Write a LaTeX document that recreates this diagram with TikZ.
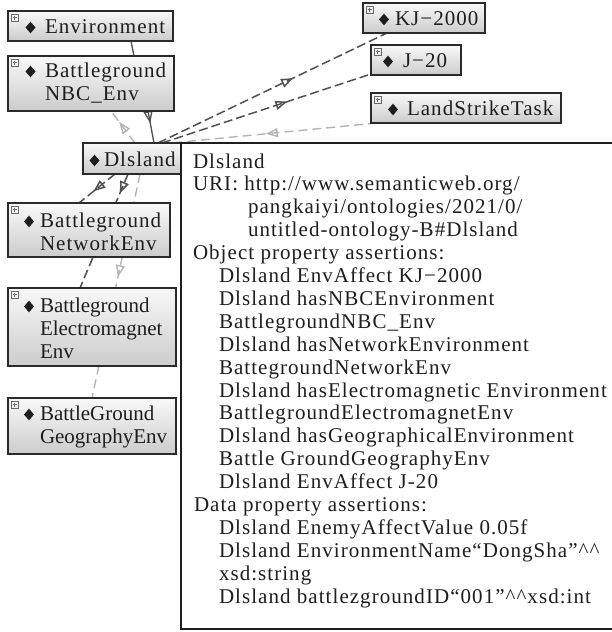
\documentclass[tikz,border=0pt]{standalone}
\usepackage{fontspec}
\setmainfont{Liberation Serif}
\newfontfamily\spacedserif[LetterSpace=5]{Liberation Serif}
\usetikzlibrary{arrows.meta,decorations.markings,calc}
\pgfdeclarelayer{edges}
\pgfsetlayers{edges,main}

\definecolor{ink}{HTML}{1E1E1E}
\definecolor{boxline}{HTML}{2A2A2A}
\definecolor{darkedge}{HTML}{505050}
\definecolor{lightedge}{HTML}{B4B4B4}
\definecolor{iconcol}{HTML}{6A6A6A}

% expand icon in the top-left corner of a class box
\newcommand\ogicon[1]{%
  \draw[iconcol, line width=0.6pt] ($(#1.north west)+(3,3)$) rectangle ($(#1.north west)+(10,10)$);
  \draw[iconcol, line width=0.6pt] ($(#1.north west)+(4.5,6.5)$) -- ($(#1.north west)+(8.5,6.5)$)
                                   ($(#1.north west)+(6.5,4.5)$) -- ($(#1.north west)+(6.5,8.5)$);}
% filled diamond marker placed at a given centre
\newcommand\ogdiamond[2]{%
  \fill[ink] (#1,#2) ++(-5,0) -- ++(5,-5.8) -- ++(5,5.8) -- ++(-5,5.8) -- cycle;}

\begin{document}
\begin{tikzpicture}[x=1pt,y=-1pt,
  ogbox/.style={draw=boxline, line width=1.4pt, top color=gray!5, bottom color=gray!40,
                anchor=north west, inner sep=0pt, outer sep=0pt},
  infobox/.style={draw=ink, line width=1.3pt, fill=white, anchor=north west,
                  inner sep=0pt, outer sep=0pt},
  lbl/.style={anchor=base west, inner sep=0pt, outer sep=0pt, text=ink,
              font=\spacedserif\fontsize{21}{23}\selectfont},
  lblnarrow/.style={anchor=base west, inner sep=0pt, outer sep=0pt, text=ink,
              font=\fontsize{21}{23}\selectfont},
  info/.style={anchor=base west, inner sep=0pt, outer sep=0pt, text=ink,
               font=\spacedserif\fontsize{21}{23}\selectfont},
  solidedge/.style={draw=darkedge, line width=1.3pt},
  darkdash/.style={draw=darkedge, line width=1.5pt, dash pattern=on 9pt off 4pt},
  lightdash/.style={draw=lightedge, line width=1.4pt, dash pattern=on 9pt off 5pt},
  tri/.style={postaction={decorate,decoration={markings,
      mark=at position #1 with {\arrow{Triangle[open,length=12pt,width=9pt]}}}}},
]
\useasboundingbox (0,0) rectangle (611,632);

% ---- class boxes ----
\node[ogbox, minimum width=165pt, minimum height=30pt] (env) at (8,11) {};
\node[ogbox, minimum width=166pt, minimum height=55pt] (nbc) at (8,56) {};
\node[ogbox, minimum width=98pt,  minimum height=31pt] (dls) at (83,143) {};
\node[ogbox, minimum width=122pt, minimum height=30pt] (kj)  at (363,3) {};
\node[ogbox, minimum width=90pt,  minimum height=30pt] (jt)  at (371,45) {};
\node[ogbox, minimum width=190pt, minimum height=30pt] (lst) at (371,93) {};
\node[ogbox, minimum width=162pt, minimum height=54pt] (net) at (8,203) {};
\node[ogbox, minimum width=168pt, minimum height=78pt] (em)  at (8,288) {};
\node[ogbox, minimum width=168pt, minimum height=56pt] (geo) at (8,398) {};

\foreach \b in {env,nbc,kj,jt,lst,net,em,geo} {\ogicon{\b}}

\ogdiamond{30.5}{27.5}
\node[lbl] (env-a) at (45,33) {Environment};
\ogdiamond{30.5}{71.5}
\node[lbl] (nbc-a) at (45,77) {Battleground};
\node[lbl] (nbc-b) at (45,100) {NBC\_Env};
\ogdiamond{94.5}{160.5}
\node[lbl] (dls-a) at (104,166) {Dlsland};
\ogdiamond{384}{19.5}
\node[lbl] (kj-a) at (395,25) {KJ−2000};
\ogdiamond{388}{61.5}
\node[lbl] (jt-a) at (403,67) {J−20};
\ogdiamond{393}{109.5}
\node[lbl] (lst-a) at (407,115) {LandStrikeTask};
\ogdiamond{29}{221.5}
\node[lbl] (net-a) at (40,227) {Battleground};
\node[lbl] (net-b) at (40,250) {NetworkEnv};
\ogdiamond{29}{306.5}
\node[lblnarrow] (em-a) at (40,312) {Battleground};
\node[lblnarrow] (em-b) at (40,335) {Electromagnet};
\node[lblnarrow] (em-c) at (40,358) {Env};
\ogdiamond{29}{414.5}
\node[lblnarrow] (geo-a) at (40,420) {BattleGround};
\node[lblnarrow] (geo-b) at (40,443) {GeographyEnv};

% ---- connectors (drawn underneath the boxes) ----
\begin{pgfonlayer}{edges}
\draw[solidedge] ($(env.south west)+(123,0)$) -- ($(nbc.north west)+(126,0)$);
\draw[solidedge, tri=0.38] ($(nbc.south west)+(140,0)$) -- ($(dls.north west)+(71,0)$);
\draw[lightdash, tri=0.66] ($(dls.north west)+(52,0)$) -- ($(nbc.south west)+(103,0)$);
\draw[darkdash, tri=0.59] ($(dls.north west)+(75,0)$) -- ($(kj.south west)+(24,0)$);
\draw[darkdash, tri=0.60] ($(dls.north west)+(79,0)$) -- ($(jt.south west)+(0,-1)$);
\draw[lightdash, tri=0.54] ($(lst.south west)+(6,0)$) -- ($(dls.north west)+(88,0)$);
\draw[darkdash, tri=0.60] ($(dls.south west)+(32,0)$) -- ($(net.north west)+(71,0)$);
\draw[darkdash, tri=0.17] ($(dls.south west)+(45,0)$) -- ($(em.north west)+(72,0)$);
\draw[lightdash, tri=0.46] ($(dls.south west)+(57,0)$) -- ($(geo.north west)+(84,0)$);
\end{pgfonlayer}

% ---- annotation panel ----
\node[infobox, minimum width=440pt, minimum height=486pt] (info) at (181,143) {};
\foreach \t/\x [count=\i] in {
  {Dlsland}/193,
  {URI: http://www.semanticweb.org/}/193,
  {pangkaiyi/ontologies/2021/0/}/248,
  {untitled-ontology-B\#Dlsland}/248,
  {Object property assertions:}/193,
  {Dlsland EnvAffect KJ−2000}/219,
  {Dlsland hasNBCEnvironment}/219,
  {BattlegroundNBC\_Env}/219,
  {Dlsland hasNetworkEnvironment}/219,
  {BattegroundNetworkEnv}/219,
  {Dlsland hasElectromagnetic Environment}/219,
  {BattlegroundElectromagnetEnv}/219,
  {Dlsland hasGeographicalEnvironment}/219,
  {Battle GroundGeographyEnv}/219,
  {Dlsland EnvAffect J-20}/219,
  {Data property assertions:}/194,
  {Dlsland EnemyAffectValue 0.05f}/219,
  {Dlsland EnvironmentName“DongSha”\textasciicircum\textasciicircum}/219,
  {xsd:string}/219,
  {Dlsland battlezgroundID“001”\textasciicircum\textasciicircum xsd:int}/219}
{\node[info] (line\i) at (\x,{168+(\i-1)*22.9}) {\t};}
\end{tikzpicture}
\end{document}
